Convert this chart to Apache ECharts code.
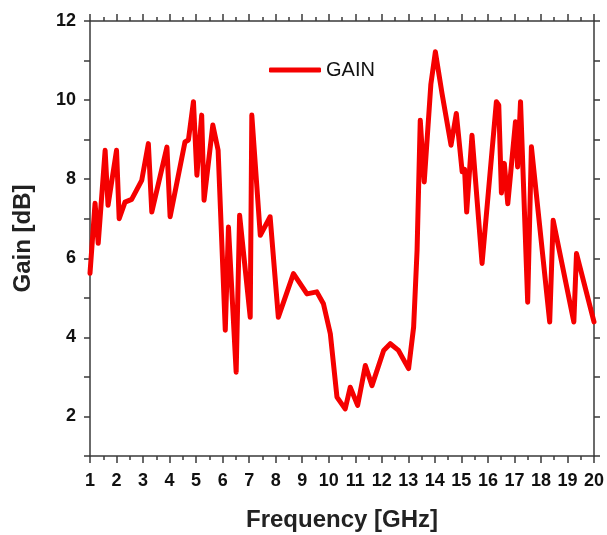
<!DOCTYPE html>
<html>
<head>
<meta charset="utf-8">
<script src="https://cdn.jsdelivr.net/npm/echarts@6/dist/echarts.min.js"></script>
<style>
  html, body { margin: 0; padding: 0; background: #fff; }
  #main { width: 607px; height: 535px; }
</style>
</head>
<body>
<div id="main"></div>
<script>
// frequency [GHz] and gain [dB]
var freq = [1, 1.19, 1.31, 1.57, 1.68, 2.0, 2.1, 2.32, 2.57, 2.95, 3.2, 3.33, 3.9, 4.02, 4.58, 4.71, 4.9, 5.03, 5.21, 5.3, 5.63, 5.83, 6.1, 6.22, 6.51, 6.64, 7.04, 7.1, 7.42, 7.79, 8.1, 8.67, 9.18, 9.55, 9.8, 10.06, 10.31, 10.62, 10.81, 11.09, 11.38, 11.63, 12.07, 12.32, 12.63, 13.01, 13.2, 13.33, 13.45, 13.6, 13.85, 14.02, 14.27, 14.61, 14.81, 15.03, 15.12, 15.2, 15.4, 15.78, 16.32, 16.41, 16.51, 16.62, 16.75, 17.04, 17.12, 17.23, 17.5, 17.64, 18.33, 18.46, 19.24, 19.34, 20];
var gain = [5.62, 7.39, 6.38, 8.73, 7.34, 8.73, 7.0, 7.42, 7.49, 7.97, 8.9, 7.17, 8.81, 7.05, 8.94, 8.99, 9.96, 8.1, 9.62, 7.47, 9.37, 8.73, 4.18, 6.79, 3.12, 7.09, 4.51, 9.62, 6.58, 7.05, 4.51, 5.61, 5.1, 5.15, 4.85, 4.09, 2.49, 2.19, 2.74, 2.28, 3.29, 2.78, 3.67, 3.84, 3.67, 3.21, 4.26, 6.2, 9.49, 7.93, 10.4, 11.22, 10.17, 8.86, 9.66, 8.19, 8.25, 7.17, 9.11, 5.87, 9.96, 9.87, 7.65, 8.4, 7.38, 9.45, 8.31, 9.96, 4.89, 8.82, 4.39, 6.96, 4.39, 6.12, 4.39];
var seriesName = 'GAIN';

var xMin = 1, xMax = 20, yMin = 1, yMax = 12;

var myChart = echarts.init(document.getElementById('main'));

var pts = freq.map(function (f, i) { return [f, gain[i]]; });

var lineCol = '#3a3a3a';
var fontFam = 'Liberation Sans, Arial, sans-serif';

var option = {
    animation: false,
    backgroundColor: '#fff',
    grid: { left: 90, right: 13, top: 21, bottom: 79, outerBoundsMode: 'none', containLabel: false },
    legend: {
        data: [seriesName],
        left: 264, top: 55,
        icon: 'roundRect',
        itemWidth: 52, itemHeight: 5,
        itemGap: 6,
        textStyle: { fontFamily: fontFam, fontSize: 20, color: '#111' }
    },
    xAxis: [{
        type: 'value', min: xMin, max: xMax, interval: 1,
        name: 'Frequency [GHz]', nameLocation: 'middle', nameGap: 52,
        nameTextStyle: { fontFamily: fontFam, fontSize: 24, fontWeight: 'bold', color: '#222' },
        axisLine: { show: true, onZero: false, lineStyle: { color: lineCol, width: 1.5 } },
        axisTick: { show: true, length: 7, lineStyle: { color: lineCol, width: 1.5 } },
        minorTick: { show: true, splitNumber: 2, length: 4, lineStyle: { color: lineCol, width: 1.5 } },
        axisLabel: { margin: 16, fontFamily: fontFam, fontSize: 18, fontWeight: 'bold', color: '#111' },
        splitLine: { show: false }
    }, {
        type: 'value', min: xMin, max: xMax, interval: 1, position: 'top',
        axisLine: { show: true, onZero: false, lineStyle: { color: lineCol, width: 1.5 } },
        axisTick: { show: true, length: 7, lineStyle: { color: lineCol, width: 1.5 } },
        minorTick: { show: true, splitNumber: 2, length: 4, lineStyle: { color: lineCol, width: 1.5 } },
        axisLabel: { show: false },
        splitLine: { show: false }
    }],
    yAxis: [{
        type: 'value', min: yMin, max: yMax, interval: 1,
        name: 'Gain [dB]', nameLocation: 'middle', nameGap: 55,
        nameTextStyle: { fontFamily: fontFam, fontSize: 24, fontWeight: 'bold', color: '#222' },
        axisLine: { show: true, onZero: false, lineStyle: { color: lineCol, width: 1.5 } },
        axisTick: { show: true, length: 6, lineStyle: { color: lineCol, width: 1.5 } },
        axisLabel: {
            margin: 14, fontFamily: fontFam, fontSize: 18, fontWeight: 'bold', color: '#111',
            formatter: function (v) { return v % 2 === 0 ? String(v) : ''; }
        },
        splitLine: { show: false }
    }, {
        type: 'value', min: yMin, max: yMax, interval: 1, position: 'right',
        axisLine: { show: true, onZero: false, lineStyle: { color: lineCol, width: 1.5 } },
        axisTick: { show: true, length: 6, lineStyle: { color: lineCol, width: 1.5 } },
        axisLabel: { show: false },
        splitLine: { show: false }
    }],
    series: [{
        name: seriesName,
        type: 'line',
        xAxisIndex: 0, yAxisIndex: 0,
        data: pts,
        showSymbol: false,
        symbol: 'none',
        smooth: false,
        color: '#f50000',
        lineStyle: { color: '#f50000', width: 5, join: 'round', cap: 'round' }
    }]
};

myChart.setOption(option);
</script>
</body>
</html>
